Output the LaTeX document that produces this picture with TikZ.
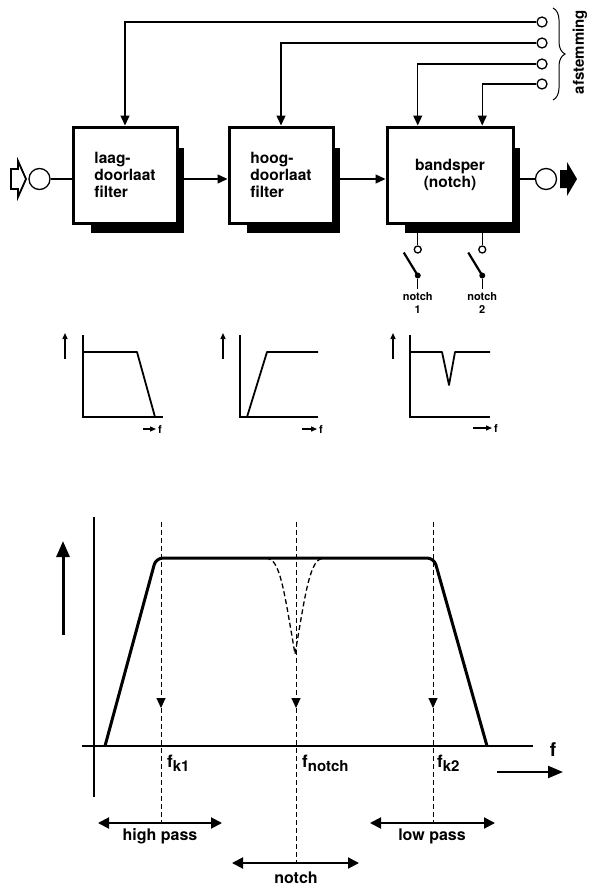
\documentclass[tikz,border=0pt]{standalone}
\usepackage{fontspec}
\setmainfont{TeX Gyre Heros}
\usetikzlibrary{arrows.meta,positioning,calc,decorations.pathreplacing}
\newcommand{\fsub}[1]{f\raisebox{-4pt}{\fontsize{15}{15}\selectfont #1}}
\tikzset{
  filterbox/.style={draw,line width=3pt,minimum height=96pt,align=left,font=\fontsize{15.5}{17}\selectfont\bfseries},
  term/.style={circle,draw,line width=1.3pt,minimum size=10pt,inner sep=0pt},
  port/.style={circle,draw,line width=1.3pt,minimum size=21pt,inner sep=0pt},
  knob/.style={circle,fill,minimum size=6pt,inner sep=0pt},
  wire/.style={line width=1.3pt},
  tri/.style={-{Triangle[length=10pt,width=9pt]}},
  smalltri/.style={-{Triangle[length=6pt,width=5pt]}},
  resp/.style={line width=1.8pt,line join=round},
  curve/.style={line width=3pt,line join=round},
  guide/.style={line width=1pt,dash pattern=on 5pt off 3pt},
  span/.style={line width=2pt,{Triangle[length=11pt,width=11pt]}-{Triangle[length=11pt,width=11pt]}},
  lbl/.style={font=\fontsize{16}{18}\selectfont\bfseries},
  tiny/.style={font=\fontsize{11}{13}\selectfont\bfseries},
}
\begin{document}
\begin{tikzpicture}[x=1pt,y=-1pt]
\useasboundingbox (0,0) rectangle (595,891);

% filter chain
\node[filterbox,minimum width=104pt] (lp) at (125,175) {laag-\\doorlaat\\filter};
\node[filterbox,minimum width=104pt] (hp) at (281,175) {hoog-\\doorlaat\\filter};
\node[filterbox,minimum width=126pt,align=center] (bs) at (450,175) {bandsper\\(notch)};
\foreach \b in {lp,hp,bs}{
  \fill ($(\b.north east)+(-1,22)$) rectangle ($(\b.south east)+(5,8)$);
  \fill ($(\b.south west)+(19,-1)$) rectangle ($(\b.south east)+(5,8)$);
}
\node[port] (in) at (39.5,179) {};
\node[port] (out) at (546,179) {};
\draw[line width=1.8pt,fill=white] (11,169) -- (18,169) -- (18,161) -- (26,179) -- (18,197) -- (18,189) -- (11,189) -- cycle;
\fill (560,170) -- (567,170) -- (567,162) -- (577,179) -- (567,196) -- (567,188) -- (560,188) -- cycle;
\draw[wire] (in) -- (in -| lp.west);
\draw[wire,tri] (lp.east |- in) -- (hp.west |- in);
\draw[wire,tri] (hp.east |- in) -- (bs.west |- in);
\draw[wire] (bs.east |- out) -- (out);

% tuning inputs
\foreach \i/\y in {1/22,2/43,3/64,4/84}
  \node[term] (t\i) at (542,\y) {};
\draw[wire,tri] (t1) -| (lp.north);
\draw[wire,tri] (t2) -| (hp.north);
\draw[wire,tri] (t3) -| ($(bs.north west)!0.25!(bs.north east)$);
\draw[wire,tri] (t4) -| ($(bs.north west)!0.75!(bs.north east)$);
\draw[line width=1pt,decorate,decoration={brace,amplitude=12pt}] (553,8) -- (553,100);
\node[rotate=90,font=\fontsize{15}{17}\selectfont\bfseries] (tune) at (580,52) {afstemming};

% notch switches
\foreach \p/\n in {0.25/1,0.75/2}{
  \coordinate (sw\n) at ($(bs.south west)!\p!(bs.south east)+(0,8)$);
  \node[term,minimum size=7pt] (so\n) at ($(sw\n)+(0,17)$) {};
  \draw[wire] (sw\n) -- (so\n);
  \node[knob] (sk\n) at ($(sw\n)+(0,43)$) {};
  \draw[line width=2.2pt] (sk\n.center) -- ++(-14,-23);
  \node[tiny,align=center,anchor=north] (sl\n) at ($(sw\n)+(0,56)$) {notch\\\n};
  \draw[wire] (sk\n) -- (sl\n);
}

% small responses
\begin{scope}[shift={(83,417)}]
\draw[wire] (0,-82) -- (0,0) -- (80,0);
\draw[resp] (0,-65) -- (54,-65) -- (72,0);
\draw[wire,smalltri] (-18,-58) -- (-18,-84);
\draw[wire,smalltri] (60,12) -- (73,12);
\node[tiny,anchor=west,inner sep=1pt] (f1) at (74,12) {f};
\end{scope}
\begin{scope}[shift={(240,417)}]
\draw[wire] (0,-82) -- (0,0) -- (78,0);
\draw[resp] (7,0) -- (27,-65) -- (78,-65);
\draw[wire,smalltri] (-17,-58) -- (-17,-84);
\draw[wire,smalltri] (62,12) -- (77,12);
\node[tiny,anchor=west,inner sep=1pt] (f2) at (78,12) {f};
\end{scope}
\begin{scope}[shift={(410,417)}]
\draw[wire] (0,-82) -- (0,0) -- (80,0);
\draw[resp] (0,-65) -- (32,-65) -- (39,-32) -- (45,-65) -- (80,-65);
\draw[wire,smalltri] (-17,-58) -- (-17,-84);
\draw[wire,smalltri] (63,11) -- (82,11);
\node[tiny,anchor=west,inner sep=1pt] (f3) at (83,11) {f};
\end{scope}

% overall response
\draw[line width=1.5pt] (94,517) -- (94,797);
\draw[line width=1.5pt] (82,746) -- (533,746);
\draw[line width=3pt,-{Triangle[length=16pt,width=13pt]}] (63,635) -- (63,541);
\draw[curve,rounded corners=7pt] (105,746) -- (156,558) -- (434,558) -- (487,746);
\draw[guide,line width=1.3pt] (266,558) .. controls (280,558) and (284,590) .. (295,654)
  .. controls (306,590) and (310,558) .. (324,558);
\foreach \x/\e in {161/822,296/863,433/822}{
  \draw[guide,tri] (\x,522) -- (\x,708);
  \draw[guide] (\x,708) -- (\x,\e);
}
\node[lbl,anchor=base west,inner sep=1pt] (fk1) at (166,767) {\fontsize{17}{17}\selectfont\fsub{k1}};
\node[lbl,anchor=base west,inner sep=1pt] (fn) at (301,767) {\fontsize{17}{17}\selectfont\fsub{notch}};
\node[lbl,anchor=base west,inner sep=1pt] (fk2) at (436,767) {\fontsize{17}{17}\selectfont\fsub{k2}};
\node[font=\fontsize{19}{19}\selectfont\bfseries,anchor=base] (faxis) at (553,756) {f};
\draw[line width=2.2pt,-{Triangle[length=15pt,width=12pt]}] (497,772) -- (563,772);
\draw[span] (98,823) -- (222,823);
\node[lbl,anchor=base] (hpl) at (160,840) {high pass};
\draw[span] (370,823) -- (495,823);
\node[lbl,anchor=base] (lpl) at (432,840) {low pass};
\draw[span] (232,863) -- (359,863);
\node[lbl,anchor=base] (nl) at (296,883) {notch};
\end{tikzpicture}
\end{document}
